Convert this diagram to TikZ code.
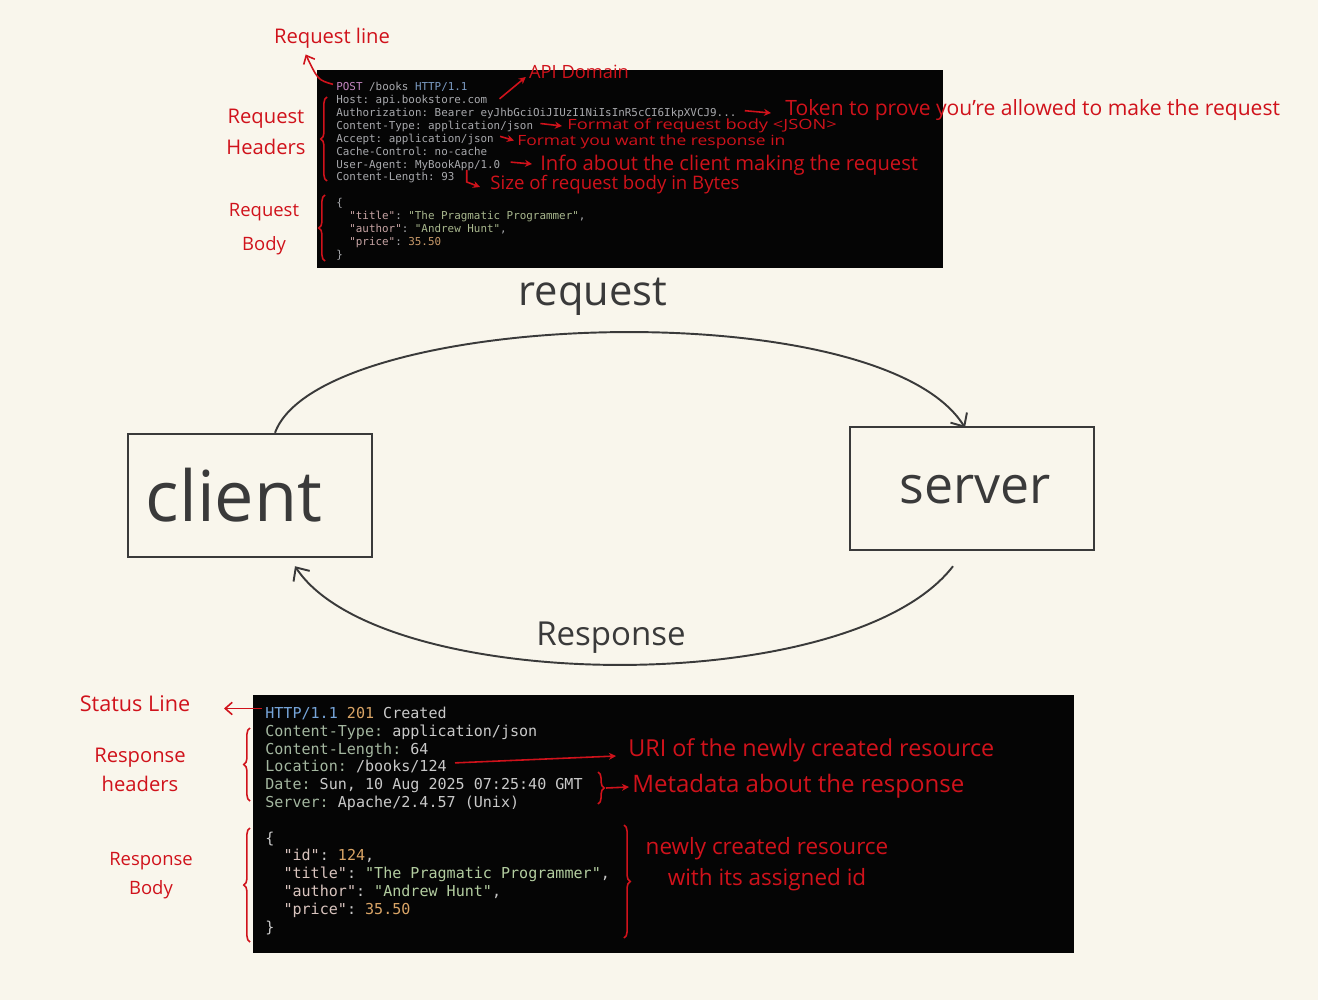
\documentclass[tikz,border=0pt]{standalone}
\usepackage{fontspec}
\setmainfont{Open Sans}
\setmonofont{DejaVu Sans Mono}
\usetikzlibrary{arrows.meta,calc,decorations.pathreplacing}
\definecolor{bg}{HTML}{F9F6EC}
\definecolor{ink}{HTML}{3A3A3A}
\definecolor{hand}{HTML}{D0121B}
\definecolor{term}{HTML}{050505}
% top terminal colours
\definecolor{tpost}{HTML}{C586C0}
\definecolor{tgrey}{HTML}{A8A9AD}
\definecolor{tblue}{HTML}{7C9CC4}
\definecolor{tkey}{HTML}{C7A4A4}
\definecolor{tstr}{HTML}{A9B88E}
\definecolor{tnum}{HTML}{C99A6A}
% bottom terminal colours
\definecolor{bblue}{HTML}{76A5DA}
\definecolor{bnum}{HTML}{D9A466}
\definecolor{bgrey}{HTML}{C9C9C9}
\definecolor{bkey}{HTML}{A4B7A0}
\definecolor{jkey}{HTML}{D9C4BE}
\definecolor{jstr}{HTML}{B3CDA0}
\newcommand\hwsize[1]{\fontsize{#1}{#1}\selectfont}
\begin{document}
\begin{tikzpicture}[x=0.02cm,y=-0.02cm,
  box/.style={draw=ink, line width=1.4pt, minimum width=4.88cm, minimum height=2.46cm, inner sep=0pt},
  bigword/.style={text=ink, inner sep=0pt},
  ctop/.style={anchor=base west, inner sep=0pt, text=tgrey, font=\ttfamily\fontsize{6.2}{7.3}\selectfont},
  cbot/.style={anchor=base west, inner sep=0pt, text=bgrey, font=\ttfamily\fontsize{8.57}{10}\selectfont},
  hw/.style={text=hand, inner sep=0pt},
  conn/.style={draw=ink, line width=1.1pt, -{Straight Barb[length=6pt,width=11pt]}},
  ra/.style={draw=hand, line width=0.9pt, -{Stealth[length=4pt,width=4pt]}},
  rb/.style={draw=hand, line width=0.9pt, -{Straight Barb[length=4pt,width=7pt]}},
  rbrace/.style={draw=hand, line width=0.9pt, decorate, decoration={brace, amplitude=3.5pt}}
]
\useasboundingbox (0,0) rectangle (1318,1000);
\fill[bg] (0,0) rectangle (1318,1000);

% terminals
\fill[term] (317,70) rectangle (943,268);
\fill[term] (253,695) rectangle (1074,953);

% client / server
\node[box] (client) at (250,495.5) {};
\node[bigword, font=\hwsize{40}] (clientlbl) at (234,495) {client};
\node[box] (server) at (972,488.5) {};
\node[bigword, font=\hwsize{29.5}] (serverlbl) at (975,490) {server};

\node[bigword, font=\hwsize{23.7}] (reqlbl) at (593,297) {request};
\node[bigword, font=\hwsize{18.8}] (reslbl) at (611,638) {Response};

\draw[conn] ($(client.north)+(25,0)$) .. controls (320,310) and (880,290) .. ($(server.north)+(-7,2)$);
\draw[conn] ($(server.south)+(-19,15)$) .. controls (850,700) and (380,695) .. ($(client.south)+(45,8)$);

% ---------- top terminal text ----------
\node[ctop] (t0) at (336,91) {\textcolor{tpost}{POST} /books \textcolor{tblue}{HTTP/1.1}};
\node[ctop] (t1) at (336,103.85) {Host: api.bookstore.com};
\node[ctop] (t2) at (336,116.7) {Authorization: Bearer eyJhbGciOiJIUzI1NiIsInR5cCI6IkpXVCJ9...};
\node[ctop] (t3) at (336,129.55) {Content-Type: application/json};
\node[ctop] (t4) at (336,142.4) {Accept: application/json};
\node[ctop] (t5) at (336,155.25) {Cache-Control: no-cache};
\node[ctop] (t6) at (336,168.1) {User-Agent: MyBookApp/1.0};
\node[ctop] (t7) at (336,180.95) {Content-Length: 93};
\node[ctop] (t8) at (336,206.65) {\{};
\node[ctop] (t9) at (349,219.5) {\textcolor{tkey}{"title"}: \textcolor{tstr}{"The Pragmatic Programmer"},};
\node[ctop] (t10) at (349,232.35) {\textcolor{tkey}{"author"}: \textcolor{tstr}{"Andrew Hunt"},};
\node[ctop] (t11) at (349,245.2) {\textcolor{tkey}{"price"}: \textcolor{tnum}{35.50}};
\node[ctop] (t12) at (336,258.05) {\}};

% ---------- bottom terminal text ----------
\node[cbot] (b0) at (265,718.5) {\textcolor{bblue}{HTTP/1.1} \textcolor{bnum}{201} Created};
\node[cbot] (b1) at (265,736.3) {\textcolor{bkey}{Content-Type:} application/json};
\node[cbot] (b2) at (265,754.1) {\textcolor{bkey}{Content-Length:} 64};
\node[cbot] (b3) at (265,771.9) {\textcolor{bkey}{Location:} /books/124};
\node[cbot] (b4) at (265,789.7) {\textcolor{bkey}{Date:} Sun, 10 Aug 2025 07:25:40 GMT};
\node[cbot] (b5) at (265,807.5) {\textcolor{bkey}{Server:} Apache/2.4.57 (Unix)};
\node[cbot] (b6) at (265,843.1) {\{};
\node[cbot] (b7) at (283.2,860.9) {\textcolor{jkey}{"id"}: \textcolor{bnum}{124},};
\node[cbot] (b8) at (283.2,878.7) {\textcolor{jkey}{"title"}: \textcolor{jstr}{"The Pragmatic Programmer"},};
\node[cbot] (b9) at (283.2,896.5) {\textcolor{jkey}{"author"}: \textcolor{jstr}{"Andrew Hunt"},};
\node[cbot] (b10) at (283.2,914.3) {\textcolor{jkey}{"price"}: \textcolor{bnum}{35.50}};
\node[cbot] (b11) at (265,932.1) {\}};

% ---------- top annotations ----------
\node[hw, font=\hwsize{11.5}] (rl) at (332,38) {Request line};
\node[hw, font=\hwsize{10.4}] (api) at (579,72) {API Domain};
\node[hw, font=\fontsize{11.5}{17.6}\selectfont, align=center] (rh) at (266,132) {Request\\Headers};
\node[hw, font=\fontsize{10.5}{19}\selectfont, align=center] (rbd) at (264,229) {Request\\Body};
\node[hw, anchor=west, font=\hwsize{12}] (tok) at (785,110) {Token to prove you're allowed to make the request};
\node[hw, anchor=west, font=\hwsize{8}] (fmb) at (567,126) {\scalebox{1.3}[1]{Format of request body <JSON>}};
\node[hw, anchor=west, font=\hwsize{8}] (fmr) at (517,141.5) {\scalebox{1.24}[1]{Format you want the response in}};
\node[hw, anchor=west, font=\hwsize{11.5}] (info) at (540,165) {Info about the client making the request};
\node[hw, anchor=west, font=\hwsize{10.6}] (size) at (490,185) {Size of request body in Bytes};

\draw[rb] ($(t0.west)+(-3,-3)$) .. controls (318,80) .. ($(rl.south west)+(32,6)$);
\draw[ra] ($(t1.east)+(12,-2)$) -- ($(api.west)+(-3,5)$);
\draw[ra] ($(t2.east)+(8,-3)$) -- ($(tok.west)+(-14,3)$);
\draw[ra] ($(t3.east)+(7,-3)$) -- ($(fmb.west)+(-5,0)$);
\draw[ra] ($(t4.east)+(6,-3)$) -- ($(fmr.west)+(-3,-1)$);
\draw[ra] ($(t6.east)+(10,-3)$) -- ($(info.west)+(-8,-1)$);
\draw[ra] ($(t7.east)+(12,-8)$) -- ($(t7.east)+(12,4)$) -- ($(size.west)+(-10,2)$);

\draw[rbrace] (327,181) -- (327,97);
\draw[rbrace] (325,261) -- (325,195);

% ---------- bottom annotations ----------
\node[hw, font=\hwsize{12.3}] (sl) at (135,704) {Status Line};
\node[hw, font=\fontsize{11.5}{16.4}\selectfont, align=center] (rsh) at (140,770) {Response\\headers};
\node[hw, font=\fontsize{10.5}{16.4}\selectfont, align=center] (rsb) at (151,876) {Response\\Body};
\node[hw, anchor=west, font=\hwsize{13.3}] (uri) at (628,750) {URI of the newly created resource};
\node[hw, anchor=west, font=\hwsize{13.7}] (meta) at (632,786) {Metadata about the response};
\node[hw, font=\fontsize{12.8}{18}\selectfont, align=center] (newr) at (767,864) {newly created resource\\with its assigned id};

\draw[rb] ($(b0.west)+(-3,-5)$) -- ($(b0.west)+(-41,-5)$);
\draw[ra] ($(b3.east)+(8,-4)$) -- ($(uri.west)+(-12,6)$);
\draw[rbrace] (250,801) -- (250,728);
\draw[rbrace] (250,942) -- (250,828);
\draw[rbrace] (598,772) -- (598,804);
\draw[ra] (606,788) -- ($(meta.west)+(-3,1)$);
\draw[rbrace] (624,825) -- (624,938);
\end{tikzpicture}
\end{document}
